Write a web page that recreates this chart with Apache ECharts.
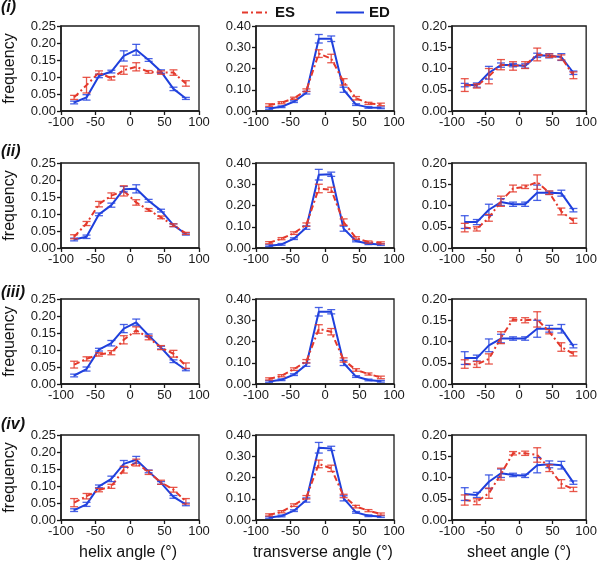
<!DOCTYPE html>
<html><head><meta charset="utf-8">
<script src="https://cdn.jsdelivr.net/npm/echarts@6/dist/echarts.min.js"></script>
<style>html,body{margin:0;padding:0;background:#fff}#c{width:600px;height:569px}</style>
</head><body><div id="c"></div>
<script>
// bin centres (degrees)
const xs = [-81,-63,-45,-27,-9,9,27,45,63,81];
const rowLabels = ['(i)','(ii)','(iii)','(iv)'];
const colTitles = ['helix angle (°)','transverse angle (°)','sheet angle (°)'];
const xTicks = [-100,-50,0,50,100];

// row (i)
const helix_i_ES      = [0.040,0.076,0.113,0.096,0.120,0.130,0.115,0.113,0.113,0.081];
const helix_i_ES_err  = [0.006,0.023,0.005,0.005,0.012,0.012,0.004,0.005,0.008,0.008];
const helix_i_ED      = [0.025,0.040,0.103,0.116,0.162,0.180,0.150,0.116,0.065,0.037];
const helix_i_ED_err  = [0.004,0.008,0.005,0.004,0.015,0.016,0.004,0.005,0.005,0.003];
const trans_i_ES      = [0.028,0.039,0.060,0.098,0.270,0.247,0.137,0.060,0.036,0.031];
const trans_i_ES_err  = [0.006,0.005,0.005,0.006,0.018,0.020,0.015,0.008,0.005,0.006];
const trans_i_ED      = [0.012,0.020,0.044,0.086,0.340,0.340,0.100,0.030,0.017,0.015];
const trans_i_ED_err  = [0.004,0.004,0.004,0.006,0.020,0.013,0.012,0.004,0.004,0.004];
const sheet_i_ES      = [0.061,0.059,0.082,0.109,0.106,0.108,0.133,0.130,0.126,0.084];
const sheet_i_ES_err  = [0.015,0.005,0.018,0.012,0.010,0.008,0.015,0.004,0.006,0.008];
const sheet_i_ED      = [0.061,0.061,0.090,0.108,0.108,0.106,0.131,0.130,0.127,0.090];
const sheet_i_ED_err  = [0.004,0.005,0.015,0.005,0.004,0.005,0.005,0.005,0.008,0.004];
// row (ii)
const helix_ii_ES     = [0.033,0.072,0.129,0.154,0.168,0.134,0.112,0.090,0.067,0.043];
const helix_ii_ES_err = [0.006,0.006,0.008,0.008,0.015,0.008,0.004,0.004,0.004,0.003];
const helix_ii_ED     = [0.025,0.033,0.099,0.126,0.173,0.174,0.139,0.110,0.067,0.041];
const helix_ii_ED_err = [0.004,0.005,0.004,0.006,0.008,0.012,0.004,0.004,0.004,0.003];
const trans_ii_ES     = [0.025,0.044,0.070,0.110,0.280,0.274,0.122,0.047,0.028,0.024];
const trans_ii_ES_err = [0.005,0.005,0.006,0.008,0.020,0.012,0.015,0.006,0.005,0.005];
const trans_ii_ED     = [0.011,0.017,0.044,0.096,0.345,0.347,0.091,0.033,0.020,0.016];
const trans_ii_ED_err = [0.004,0.004,0.004,0.008,0.025,0.010,0.012,0.004,0.004,0.004];
const sheet_ii_ES     = [0.048,0.045,0.071,0.110,0.140,0.144,0.155,0.130,0.086,0.064];
const sheet_ii_ES_err = [0.010,0.005,0.008,0.012,0.008,0.004,0.017,0.004,0.008,0.006];
const sheet_ii_ED     = [0.061,0.061,0.090,0.108,0.103,0.103,0.130,0.130,0.129,0.089];
const sheet_ii_ED_err = [0.015,0.006,0.013,0.008,0.005,0.005,0.018,0.004,0.007,0.004];
// row (iii)
const helix_iii_ES     = [0.057,0.074,0.087,0.092,0.130,0.158,0.136,0.107,0.089,0.054];
const helix_iii_ES_err = [0.010,0.006,0.005,0.006,0.012,0.010,0.006,0.006,0.010,0.008];
const helix_iii_ED     = [0.025,0.044,0.101,0.120,0.163,0.181,0.143,0.107,0.067,0.042];
const helix_iii_ED_err = [0.004,0.006,0.004,0.008,0.012,0.010,0.004,0.004,0.004,0.003];
const trans_iii_ES     = [0.024,0.039,0.070,0.107,0.259,0.246,0.113,0.066,0.047,0.031];
const trans_iii_ES_err = [0.005,0.005,0.006,0.008,0.020,0.015,0.010,0.006,0.005,0.006];
const trans_iii_ED     = [0.012,0.020,0.044,0.091,0.340,0.340,0.099,0.035,0.019,0.013];
const trans_iii_ED_err = [0.004,0.004,0.004,0.008,0.020,0.010,0.012,0.004,0.004,0.004];
const sheet_iii_ES     = [0.047,0.046,0.059,0.109,0.152,0.150,0.152,0.123,0.087,0.071];
const sheet_iii_ES_err = [0.010,0.007,0.012,0.014,0.004,0.006,0.018,0.005,0.010,0.005];
const sheet_iii_ED     = [0.061,0.061,0.091,0.107,0.107,0.107,0.130,0.130,0.130,0.089];
const sheet_iii_ED_err = [0.015,0.007,0.015,0.010,0.004,0.004,0.020,0.008,0.010,0.004];
// row (iv)
const helix_iv_ES     = [0.051,0.070,0.088,0.099,0.148,0.169,0.140,0.111,0.089,0.055];
const helix_iv_ES_err = [0.012,0.008,0.005,0.006,0.010,0.010,0.006,0.006,0.007,0.008];
const helix_iv_ED     = [0.029,0.046,0.099,0.121,0.165,0.177,0.143,0.109,0.068,0.046];
const helix_iv_ED_err = [0.004,0.006,0.004,0.008,0.010,0.010,0.004,0.004,0.004,0.004];
const trans_iv_ES     = [0.024,0.039,0.070,0.107,0.264,0.243,0.113,0.063,0.044,0.028];
const trans_iv_ES_err = [0.005,0.005,0.006,0.008,0.018,0.015,0.008,0.006,0.005,0.005];
const trans_iv_ED     = [0.012,0.019,0.044,0.094,0.340,0.337,0.102,0.036,0.020,0.016];
const trans_iv_ED_err = [0.004,0.004,0.004,0.010,0.025,0.010,0.012,0.004,0.004,0.004];
const sheet_iv_ES     = [0.047,0.043,0.063,0.108,0.157,0.157,0.153,0.122,0.085,0.072];
const sheet_iv_ES_err = [0.012,0.007,0.012,0.014,0.004,0.005,0.017,0.008,0.010,0.005];
const sheet_iv_ED     = [0.061,0.059,0.090,0.110,0.106,0.104,0.129,0.131,0.129,0.088];
const sheet_iv_ED_err = [0.015,0.006,0.016,0.010,0.004,0.004,0.018,0.008,0.009,0.004];

const yMax = [0.25, 0.40, 0.20];
const yStep = [0.05, 0.10, 0.05];

const panels = [
  [[helix_i_ES,helix_i_ES_err,helix_i_ED,helix_i_ED_err],[trans_i_ES,trans_i_ES_err,trans_i_ED,trans_i_ED_err],[sheet_i_ES,sheet_i_ES_err,sheet_i_ED,sheet_i_ED_err]],
  [[helix_ii_ES,helix_ii_ES_err,helix_ii_ED,helix_ii_ED_err],[trans_ii_ES,trans_ii_ES_err,trans_ii_ED,trans_ii_ED_err],[sheet_ii_ES,sheet_ii_ES_err,sheet_ii_ED,sheet_ii_ED_err]],
  [[helix_iii_ES,helix_iii_ES_err,helix_iii_ED,helix_iii_ED_err],[trans_iii_ES,trans_iii_ES_err,trans_iii_ED,trans_iii_ED_err],[sheet_iii_ES,sheet_iii_ES_err,sheet_iii_ED,sheet_iii_ED_err]],
  [[helix_iv_ES,helix_iv_ES_err,helix_iv_ED,helix_iv_ED_err],[trans_iv_ES,trans_iv_ES_err,trans_iv_ED,trans_iv_ED_err],[sheet_iv_ES,sheet_iv_ES_err,sheet_iv_ED,sheet_iv_ED_err]]
];

const RED = '#e4392c', BLUE = '#1e3fdc';
const FONT = "'Liberation Sans', Arial, sans-serif";
const colLeft = [61, 256, 452];
const plotW = 138, plotH = 85;
const rowTop = [26, 163, 299, 435];
const rowLabelY = [8, 152, 293, 425];

const grids = [], xAxes = [], yAxes = [], series = [], graphics = [];

function errRender(color) {
  return function (params, api) {
    const x = api.value(0), y = api.value(1), e = api.value(2);
    const t = api.coord([x, y + e]), b = api.coord([x, y - e]);
    const w = 4;
    const st = { stroke: color, lineWidth: 1.3 };
    return { type: 'group', children: [
      { type: 'line', shape: { x1: t[0], y1: t[1], x2: b[0], y2: b[1] }, style: st },
      { type: 'line', shape: { x1: t[0]-w, y1: t[1], x2: t[0]+w, y2: t[1] }, style: st },
      { type: 'line', shape: { x1: b[0]-w, y1: b[1], x2: b[0]+w, y2: b[1] }, style: st }
    ]};
  };
}

let gi = 0;
for (let r = 0; r < 4; r++) {
  for (let c = 0; c < 3; c++) {
    grids.push({ left: colLeft[c], top: rowTop[r], width: plotW, height: plotH,
      show: true, borderColor: '#1a1a1a', borderWidth: 1.3 });
    xAxes.push({ type: 'value', gridIndex: gi, min: -100, max: 100, interval: 50,
      axisLine: { show: true, onZero: false, lineStyle: { color: '#1a1a1a', width: 1.5 } },
      axisTick: { show: true, inside: false, length: 4, lineStyle: { color: '#1a1a1a', width: 1.3 } },
      axisLabel: { color: '#1a1a1a', fontSize: 13, fontFamily: FONT, margin: 5 },
      splitLine: { show: false } });
    yAxes.push({ type: 'value', gridIndex: gi, min: 0, max: yMax[c], interval: yStep[c],
      axisLine: { show: true, onZero: false, lineStyle: { color: '#1a1a1a', width: 1.5 } },
      axisTick: { show: true, inside: false, length: 4, lineStyle: { color: '#1a1a1a', width: 1.3 } },
      axisLabel: { color: '#1a1a1a', fontSize: 13, fontFamily: FONT, margin: 5,
        formatter: v => v.toFixed(2) },
      splitLine: { show: false } });
    const [es, esE, ed, edE] = panels[r][c];
    series.push({ name: 'ED', type: 'line', xAxisIndex: gi, yAxisIndex: gi, symbol: 'none',
      data: xs.map((x, i) => [x, ed[i]]), lineStyle: { color: BLUE, width: 2 }, itemStyle: { color: BLUE }, z: 3 });
    series.push({ name: 'ES', type: 'line', xAxisIndex: gi, yAxisIndex: gi, symbol: 'none',
      data: xs.map((x, i) => [x, es[i]]), lineStyle: { color: RED, width: 2, type: [6, 3, 2, 3] }, itemStyle: { color: RED }, z: 4 });
    series.push({ name: 'ED err', type: 'custom', xAxisIndex: gi, yAxisIndex: gi,
      renderItem: errRender('rgba(40,70,225,0.85)'), encode: { x: 0, y: 1 },
      data: xs.map((x, i) => [x, ed[i], edE[i]]), z: 5 });
    series.push({ name: 'ES err', type: 'custom', xAxisIndex: gi, yAxisIndex: gi,
      renderItem: errRender('rgba(228,57,44,0.85)'), encode: { x: 0, y: 1 },
      data: xs.map((x, i) => [x, es[i], esE[i]]), z: 6 });
    gi++;
  }
  graphics.push({ type: 'text', left: 1, top: rowLabelY[r] - 8,
    style: { text: rowLabels[r], font: "italic bold 16px 'Liberation Sans', Arial", fill: '#111' } });
  graphics.push({ type: 'text', x: 10, y: rowTop[r] + plotH / 2, rotation: Math.PI / 2,
    style: { text: 'frequency', font: "16px 'Liberation Sans', Arial", fill: '#111', align: 'center', verticalAlign: 'middle' } });
}
for (let c = 0; c < 3; c++) {
  graphics.push({ type: 'text', x: colLeft[c] + plotW / 2 - 2, y: 553,
    style: { text: colTitles[c], font: "16px 'Liberation Sans', Arial", fill: '#111', align: 'center', verticalAlign: 'middle' } });
}

const chart = echarts.init(document.getElementById('c'), null, { renderer: 'canvas' });
chart.setOption({
  animation: false,
  backgroundColor: '#fff',
  legend: { data: ['ES', 'ED'], left: 236, top: 0, itemWidth: 28, itemHeight: 12, itemGap: 40,
    itemStyle: { opacity: 0, borderWidth: 0 },
    textStyle: { fontSize: 15, fontWeight: 'bold', fontFamily: FONT, color: '#111' } },
  grid: grids, xAxis: xAxes, yAxis: yAxes, series: series, graphic: graphics
});
</script></body></html>
